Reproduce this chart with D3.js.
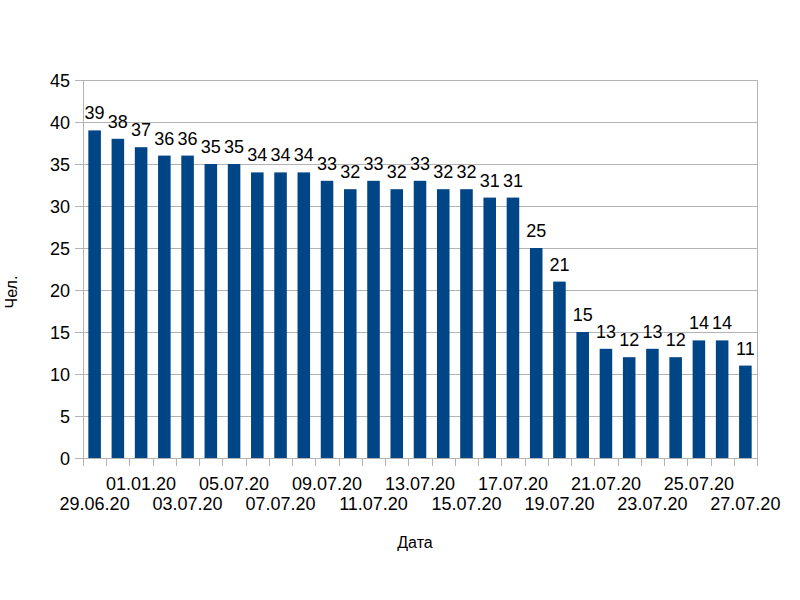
<!DOCTYPE html>
<html><head><meta charset="utf-8">
<script src="https://cdn.jsdelivr.net/npm/d3@7"></script>
<style>body{margin:0;background:#fff}svg{display:block}text{font-family:"Liberation Sans",Arial,sans-serif;fill:#000}</style>
</head><body>
<svg id="c" width="800" height="600"></svg>
<script>
const dates = ["29.06.20","30.06.20","01.01.20","02.07.20","03.07.20","04.07.20","05.07.20","06.07.20","07.07.20","08.07.20","09.07.20","10.07.20","11.07.20","12.07.20","13.07.20","14.07.20","15.07.20","16.07.20","17.07.20","18.07.20","19.07.20","20.07.20","21.07.20","22.07.20","23.07.20","24.07.20","25.07.20","26.07.20","27.07.20"];
const values = [39,38,37,36,36,35,35,34,34,34,33,32,33,32,33,32,32,31,31,25,21,15,13,12,13,12,14,14,11];
const yTicks = [0,5,10,15,20,25,30,35,40,45];
const xTitle = "Дата", yTitle = "Чел.";

const svg = d3.select("#c");
const L = 83, R = 757, T = 80, B = 458;
const x = d3.scaleBand().domain(d3.range(values.length)).range([L, R]).paddingInner(0.46).paddingOuter(0.23);
const y = d3.scaleLinear().domain([0, 45]).range([B, T]);
const grid = "#b3b3b3";

// gridlines
svg.append("g").selectAll("line").data(yTicks).join("line")
  .attr("x1", L - 8).attr("x2", R).attr("y1", d => y(d) + 0.5).attr("y2", d => y(d) + 0.5)
  .attr("stroke", grid).attr("stroke-width", 1);
// y axis line
svg.append("line").attr("x1", L + 0.5).attr("x2", L + 0.5).attr("y1", T).attr("y2", B).attr("stroke", grid);
svg.append("line").attr("x1", R + 0.5).attr("x2", R + 0.5).attr("y1", T).attr("y2", B).attr("stroke", grid);
// y tick labels
svg.append("g").selectAll("text").data(yTicks).join("text")
  .attr("x", L - 13).attr("y", d => y(d) + 6.5).attr("text-anchor", "end")
  .attr("font-size", 18).text(d => d);

// x ticks at category boundaries
const bw = (R - L) / values.length;
svg.append("g").selectAll("line").data(d3.range(values.length + 1)).join("line")
  .attr("x1", i => Math.round(L + i * bw) + 0.5).attr("x2", i => Math.round(L + i * bw) + 0.5)
  .attr("y1", B).attr("y2", B + 8).attr("stroke", grid);

// bars
svg.append("g").selectAll("rect").data(values).join("rect")
  .attr("x", (d, i) => x(i)).attr("width", x.bandwidth())
  .attr("y", d => y(d)).attr("height", d => B - y(d))
  .attr("fill", "#004586");

// data labels
svg.append("g").selectAll("text").data(values).join("text")
  .attr("x", (d, i) => x(i) + x.bandwidth() / 2).attr("y", d => y(d) - 11)
  .attr("text-anchor", "middle").attr("font-size", 18).text(d => d);

// x labels (every second, staggered)
svg.append("g").selectAll("text").data(dates.map((d, i) => ({d, i})).filter(o => o.i % 2 === 0)).join("text")
  .attr("x", o => x(o.i) + x.bandwidth() / 2)
  .attr("y", o => (o.i % 4 === 0) ? 510 : 490)
  .attr("text-anchor", "middle").attr("font-size", 18).text(o => o.d);

// axis titles
svg.append("text").attr("x", 415).attr("y", 548).attr("text-anchor", "middle").attr("font-size", 16).text(xTitle);
svg.append("text").attr("transform", "translate(17,292) rotate(-90)").attr("text-anchor", "middle").attr("font-size", 16).text(yTitle);
</script>
</body></html>
